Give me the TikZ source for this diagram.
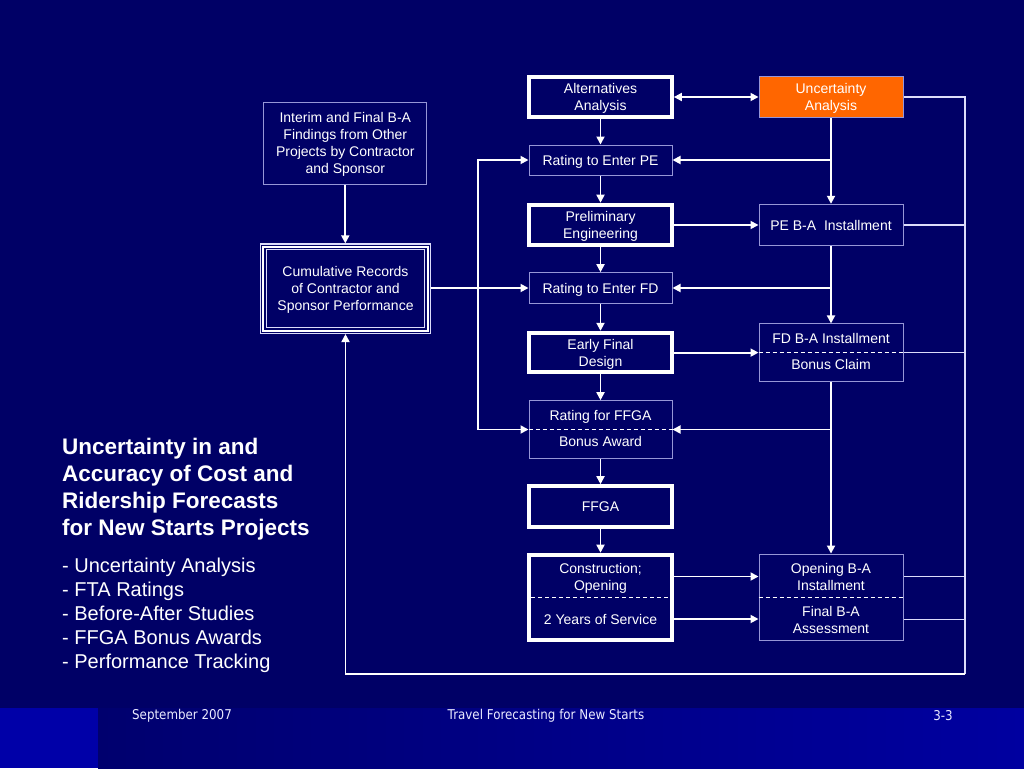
\documentclass[tikz,border=0pt]{standalone}
\usepackage{fontspec}
\setmainfont{Liberation Sans}
\newfontfamily\footfont[FakeStretch=0.88]{DejaVu Sans}
\usetikzlibrary{arrows.meta}

\definecolor{slidebg}{RGB}{0,0,102}
\definecolor{bandleft}{RGB}{0,0,168}
\definecolor{bandlo}{RGB}{0,0,110}
\definecolor{bandhi}{RGB}{0,0,160}
\definecolor{thinline}{RGB}{150,150,215}
\definecolor{feedline}{RGB}{220,220,250}
\definecolor{uaorange}{RGB}{255,102,0}

\begin{document}
\begin{tikzpicture}[x=1pt,y=-1pt,
    >={Triangle[length=8pt,width=8pt]},
    boxtext/.style={text=white, font=\fontsize{14}{17}\selectfont, align=center, inner sep=0pt, text depth=0pt},
    thinbox/.style={boxtext, draw=thinline, line width=1pt, minimum width=144},
    thickbox/.style={boxtext, draw=white, line width=4pt, minimum width=142.7},
    flow/.style={->, draw=white, line width=1.8pt},
    feed/.style={draw=feedline, line width=1.5pt},
    sep/.style={draw=white, line width=1pt, dash pattern=on 4pt off 3pt},
    heading/.style={text=white, font=\fontsize{22.5}{27}\selectfont\bfseries, inner sep=0pt, anchor=base west},
    bullet/.style={text=white, font=\fontsize{20}{24}\selectfont, inner sep=0pt, anchor=base west},
    foottext/.style={text=white!92!blue, font=\footfont\fontsize{13.5}{16}\selectfont, inner sep=0pt}]

    \useasboundingbox (0,0) rectangle (1024,768);
    % Slide background and footer band
    \fill[slidebg] (0,0) rectangle (1024,768);
    \shade[left color=bandlo, right color=bandhi] (98,708) rectangle (1024,768);
    \fill[bandleft] (0,708) rectangle (98,768);

    % Middle column
    \node[thickbox, minimum height=40] (alt) at (600.5,97) {Alternatives\\Analysis};
    \node[thinbox, minimum width=143, minimum height=30] (rpe) at (600.5,160) {Rating to Enter PE};
    \node[thickbox, minimum height=40.6] (pe) at (600.5,225) {Preliminary\\Engineering};
    \node[thinbox, minimum width=143, minimum height=30.6] (rfd) at (600.5,288) {Rating to Enter FD};
    \node[thickbox, minimum height=39.6] (efd) at (600.5,352.6) {Early Final\\Design};
    \node[thinbox, minimum width=143, minimum height=57.6] (rffga) at (600.5,429.5) {};
    \node[boxtext] (rffgaup) at (600.5,415) {Rating for FFGA};
    \node[boxtext] (rffgalo) at (600.5,441) {Bonus Award};
    \draw[sep] (rffga.west) -- (rffga.east);
    \node[thickbox, minimum height=41] (ffga) at (600.5,506.7) {FFGA};
    \node[thickbox, minimum height=85.6] (con) at (600.5,597.5) {};
    \node[boxtext] (conup) at (600.5,576.5) {Construction;\\Opening};
    \node[boxtext] (conlo) at (600.5,619) {2 Years of Service};
    \draw[sep] ([xshift=4pt]con.center -| con.west) -- ([xshift=-4pt]con.center -| con.east);

    % Right column
    \node[thinbox, fill=uaorange, minimum height=41.7] (ua) at (831,97) {Uncertainty\\Analysis};
    \node[thinbox, minimum height=41.4] (peba) at (831,225) {PE B-A~ Installment};
    \node[thinbox, minimum height=57.3] (fdba) at (831,352.6) {};
    \node[boxtext] (fdbaup) at (831,338) {FD B-A Installment};
    \node[boxtext] (fdbalo) at (831,364) {Bonus Claim};
    \draw[sep] (fdba.west) -- (fdba.east);
    \node[thinbox, minimum height=86.3] (opba) at (831,597.2) {};
    \node[boxtext] (opbaup) at (831,576.5) {Opening B-A\\Installment};
    \node[boxtext] (opbalo) at (831,619.5) {Final B-A\\Assessment};
    \draw[sep] (opba.west) -- (opba.east);

    % Left column
    \node[thinbox, minimum width=162.7, minimum height=82] (interim) at (345.3,143.3)
        {Interim and Final B-A\\Findings from Other\\Projects by Contractor\\and Sponsor};
    \node[thinbox, draw=feedline, line width=1.3pt, minimum width=169.7, minimum height=89.4] (cum) at (345.5,288.7)
        {Cumulative Records\\of Contractor and\\Sponsor Performance};
    \draw[white, line width=2pt] ([shift={(3.3,3.3)}]cum.north west) rectangle ([shift={(-3.3,-3.3)}]cum.south east);
    \draw[feedline, line width=1.2pt] ([shift={(6.2,6.2)}]cum.north west) rectangle ([shift={(-6.2,-6.2)}]cum.south east);

    % Main flow
    \foreach \a/\b in {alt/rpe, rpe/pe, pe/rfd, rfd/efd, efd/rffga, rffga/ffga, ffga/con}
        \draw[flow] (\a) -- (\b);
    \draw[flow, <->] (alt) -- (ua);

    % Uncertainty analysis and B-A steps
    \draw[flow] (ua) -- (peba);
    \draw[flow] (peba) -- (fdba);
    \draw[flow] (fdba) -- (opba);
    \draw[flow] (ua |- rpe) -- (rpe);
    \draw[flow] (peba |- rfd) -- (rfd);
    \draw[flow] (fdba |- rffga) -- (rffga);
    \draw[flow] (pe) -- (peba);
    \draw[flow] (efd) -- (efd -| fdba.west);
    \draw[flow] (conup -| con.east) -- (conup -| opba.west);
    \draw[flow] (conlo -| con.east) -- (conlo -| opba.west);

    % Records feed the ratings
    \coordinate (hub) at (478,288);
    \draw[flow] (interim.south) -- (interim.south |- cum.north);
    \draw[flow] (rfd -| cum.east) -- (rfd);
    \draw[flow] (hub) |- (rpe);
    \draw[flow] (hub) |- (rffga);

    % Feedback loop back to the records
    \coordinate (loopNE) at (965,97);
    \coordinate (loopSE) at (965,674);
    \coordinate (loopSW) at (345.5,674);
    \draw[feed] (ua) -- (loopNE) -- (loopSE);
    \draw[feed] (peba) -- (peba -| loopNE);
    \draw[feed] (fdba) -- (fdba -| loopNE);
    \draw[feed] (opbaup -| opba.east) -- (opbaup -| loopNE);
    \draw[feed] (opbalo -| opba.east) -- (opbalo -| loopNE);
    \draw[flow] (loopSE) -- (loopSW) -- (cum);

    % Text on the left
    \foreach \entry [count=\i from 0] in {Uncertainty in and, Accuracy of Cost and, Ridership Forecasts, for New Starts Projects}
        \node[heading] (head\i) at (62,454+27*\i) {\entry};
    \foreach \entry [count=\i from 0] in {- Uncertainty Analysis, - FTA Ratings, - Before-After Studies, - FFGA Bonus Awards, - Performance Tracking}
        \node[bullet] (item\i) at (62,572+24*\i) {\entry};

    % Footer
    \node[foottext] (date) at (182,715.5) {September 2007};
    \node[foottext] (talk) at (546,715.5) {Travel Forecasting for New Starts};
    \node[foottext] (page) at (943,715.5) {3-3};
\end{tikzpicture}
\end{document}
